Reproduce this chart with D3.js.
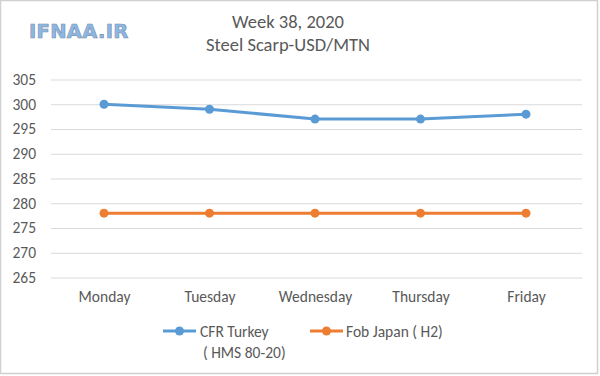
<!DOCTYPE html>
<html><head><meta charset="utf-8">
<script src="https://cdn.jsdelivr.net/npm/d3@7"></script>
<style>body{margin:0;background:#fff}svg{display:block}</style>
</head><body>
<script>
const categories = ["Monday","Tuesday","Wednesday","Thursday","Friday"];
const cfrTurkey = [300,299,297,297,298];
const fobJapan = [278,278,278,278,278];
const yTicks = [265,270,275,280,285,290,295,300,305];
const seriesNames = ["CFR Turkey", "Fob Japan ( H2)"];
const colors = ["#5b9bd5","#ed7d31"];

const W=600,H=376;
const svg=d3.select("body").append("svg").attr("width",W).attr("height",H);
svg.append("rect").attr("x",0.5).attr("y",0.5).attr("width",W-3).attr("height",H-3)
  .attr("fill","#fff").attr("stroke","#d0d0d0").attr("stroke-width",1.5);

const font="Carlito, Calibri, 'Open Sans', sans-serif";
const x=d3.scalePoint().domain(categories).range([104,526]);
const y=d3.scaleLinear().domain([265,305]).range([277.5,79.5]);

const g=svg.append("g");
const ya=d3.axisLeft(y).tickValues(yTicks).tickSize(-(582-51)).tickPadding(15);
g.append("g").attr("transform","translate(51,0)").call(ya)
 .call(s=>s.select(".domain").remove())
 .call(s=>s.selectAll(".tick line").attr("stroke","#d9d9d9"))
 .call(s=>s.selectAll(".tick text").attr("fill","#595959").attr("font-size",15.5).attr("font-family",font));

const xa=d3.axisBottom(x).tickSize(0).tickPadding(11);
g.append("g").attr("transform","translate(0,280)").call(xa)
 .call(s=>s.select(".domain").remove())
 .call(s=>s.selectAll(".tick text").attr("fill","#595959").attr("font-size",15.5).attr("font-family",font));

const line=d3.line().x((d,i)=>x(categories[i])).y(d=>y(d));
[cfrTurkey,fobJapan].forEach((data,k)=>{
  g.append("path").datum(data).attr("d",line).attr("fill","none")
   .attr("stroke",colors[k]).attr("stroke-width",3).attr("stroke-linejoin","round");
  g.selectAll(null).data(data).enter().append("circle")
   .attr("cx",(d,i)=>x(categories[i])).attr("cy",d=>y(d)).attr("r",4.5).attr("fill",colors[k]);
});

// titles
svg.append("text").attr("x",288).attr("y",28).attr("text-anchor","middle")
 .attr("font-family",font).attr("font-size",18.5).attr("fill","#595959").text("Week 38, 2020");
svg.append("text").attr("x",288).attr("y",51).attr("text-anchor","middle")
 .attr("font-family",font).attr("font-size",18.5).attr("fill","#595959").text("Steel Scarp-USD/MTN");

// logo
svg.append("text").attr("x",29).attr("y",38).attr("font-family","'DejaVu Sans', sans-serif")
 .attr("font-weight","bold").attr("font-size",19.5).attr("fill","#8cb8e6").attr("stroke","#7f93ad")
 .attr("stroke-width",0.7).attr("letter-spacing",0.3).text("IFNAA.IR");

// legend
const leg=svg.append("g");
const legItems=[{x0:163,tx:200},{x0:310,tx:346}];
legItems.forEach((it,k)=>{
  leg.append("line").attr("x1",it.x0).attr("x2",it.x0+33).attr("y1",331).attr("y2",331)
   .attr("stroke",colors[k]).attr("stroke-width",3);
  leg.append("circle").attr("cx",it.x0+16.5).attr("cy",331).attr("r",4.5).attr("fill",colors[k]);
  leg.append("text").attr("x",it.tx).attr("y",336.5).attr("font-family",font).attr("font-size",15.5)
   .attr("fill","#595959").text(seriesNames[k]);
});
leg.append("text").attr("x",203).attr("y",357.5).attr("font-family",font).attr("font-size",15.5)
 .attr("fill","#595959").text("( HMS 80-20)");
</script>
</body></html>
